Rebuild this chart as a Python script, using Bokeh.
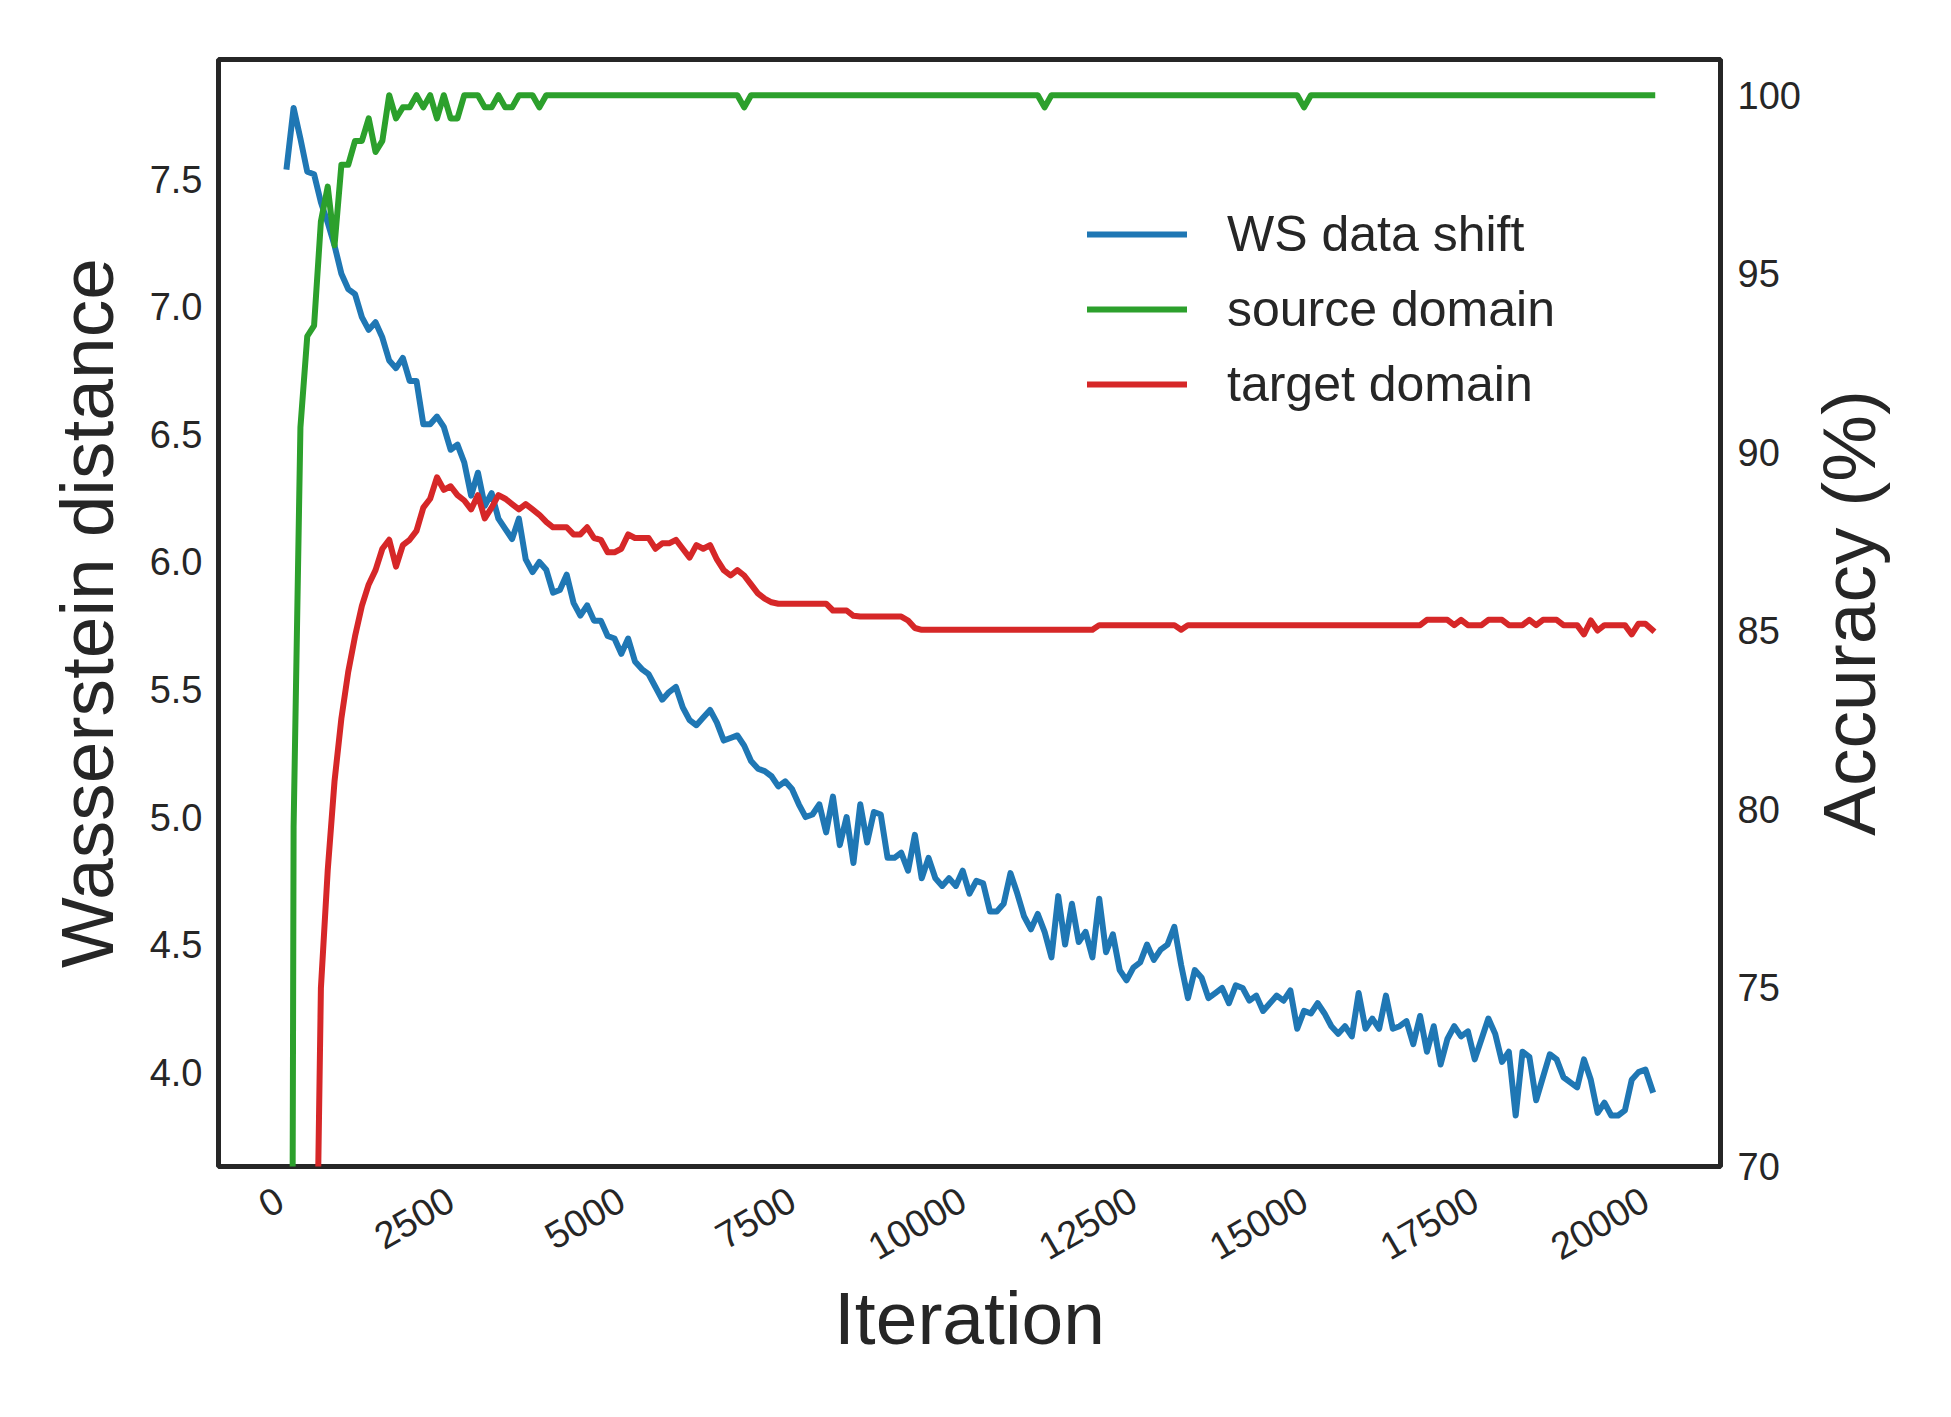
import math
from bokeh.plotting import figure
from bokeh.layouts import row
from bokeh.models import (Range1d, LinearAxis, FixedTicker, NumeralTickFormatter,
                          Legend, LegendItem)
from bokeh.embed import file_html
from bokeh.resources import INLINE

# ---------------- data ----------------
# evaluation every 100 iterations
iterations = list(range(100, 20101, 100))

ws_shift = [
    7.55, 7.78, 7.66, 7.53, 7.52, 7.41, 7.33, 7.24, 7.13, 7.07,
    7.05, 6.96, 6.91, 6.94, 6.88, 6.79, 6.76, 6.80, 6.71, 6.71,
    6.54, 6.54, 6.57, 6.53, 6.44, 6.46, 6.39, 6.26, 6.35, 6.22,
    6.27, 6.17, 6.13, 6.09, 6.17, 6.01, 5.96, 6.00, 5.97, 5.88,
    5.89, 5.95, 5.84, 5.79, 5.83, 5.77, 5.77, 5.71, 5.70, 5.64,
    5.70, 5.61, 5.58, 5.56, 5.51, 5.46, 5.49, 5.51, 5.43, 5.38,
    5.36, 5.39, 5.42, 5.37, 5.30, 5.31, 5.32, 5.28, 5.22, 5.19,
    5.18, 5.16, 5.12, 5.14, 5.11, 5.05, 5.00, 5.01, 5.05, 4.94,
    5.08, 4.89, 5.00, 4.82, 5.05, 4.90, 5.02, 5.01, 4.84, 4.84,
    4.86, 4.79, 4.93, 4.76, 4.84, 4.76, 4.73, 4.76, 4.73, 4.79,
    4.70, 4.75, 4.74, 4.63, 4.63, 4.66, 4.78, 4.70, 4.61, 4.56,
    4.62, 4.55, 4.45, 4.69, 4.50, 4.66, 4.51, 4.55, 4.45, 4.68,
    4.47, 4.54, 4.40, 4.36, 4.41, 4.43, 4.50, 4.44, 4.48, 4.50,
    4.57, 4.42, 4.29, 4.40, 4.37, 4.29, 4.31, 4.33, 4.27, 4.34,
    4.33, 4.28, 4.30, 4.24, 4.27, 4.30, 4.28, 4.32, 4.17, 4.24,
    4.23, 4.27, 4.23, 4.18, 4.15, 4.18, 4.14, 4.31, 4.17, 4.21,
    4.17, 4.30, 4.17, 4.18, 4.20, 4.11, 4.22, 4.08, 4.18, 4.03,
    4.13, 4.18, 4.14, 4.16, 4.05, 4.13, 4.21, 4.15, 4.04, 4.08,
    3.83, 4.08, 4.06, 3.89, 3.98, 4.07, 4.05, 3.98, 3.96, 3.94,
    4.05, 3.97, 3.84, 3.88, 3.83, 3.83, 3.85, 3.97, 4.00, 4.01,
    3.93,
]

source_acc = [
    10.0, 79.5, 90.7, 93.25, 93.55, 96.47, 97.44, 95.8, 98.05, 98.05,
    98.72, 98.72, 99.35, 98.41, 98.72, 100.0, 99.35, 99.66, 99.66, 100.0,
    99.66, 100.0, 99.35, 100.0, 99.35, 99.35, 100.0, 100.0, 100.0, 99.66,
    99.66, 100.0, 99.66, 99.66, 100.0, 100.0, 100.0, 99.66, 100.0, 100.0,
    100.0, 100.0, 100.0, 100.0, 100.0, 100.0, 100.0, 100.0, 100.0, 100.0,
    100.0, 100.0, 100.0, 100.0, 100.0, 100.0, 100.0, 100.0, 100.0, 100.0,
    100.0, 100.0, 100.0, 100.0, 100.0, 100.0, 100.0, 99.66, 100.0, 100.0,
    100.0, 100.0, 100.0, 100.0, 100.0, 100.0, 100.0, 100.0, 100.0, 100.0,
    100.0, 100.0, 100.0, 100.0, 100.0, 100.0, 100.0, 100.0, 100.0, 100.0,
    100.0, 100.0, 100.0, 100.0, 100.0, 100.0, 100.0, 100.0, 100.0, 100.0,
    100.0, 100.0, 100.0, 100.0, 100.0, 100.0, 100.0, 100.0, 100.0, 100.0,
    100.0, 99.66, 100.0, 100.0, 100.0, 100.0, 100.0, 100.0, 100.0, 100.0,
    100.0, 100.0, 100.0, 100.0, 100.0, 100.0, 100.0, 100.0, 100.0, 100.0,
    100.0, 100.0, 100.0, 100.0, 100.0, 100.0, 100.0, 100.0, 100.0, 100.0,
    100.0, 100.0, 100.0, 100.0, 100.0, 100.0, 100.0, 100.0, 100.0, 99.66,
    100.0, 100.0, 100.0, 100.0, 100.0, 100.0, 100.0, 100.0, 100.0, 100.0,
    100.0, 100.0, 100.0, 100.0, 100.0, 100.0, 100.0, 100.0, 100.0, 100.0,
    100.0, 100.0, 100.0, 100.0, 100.0, 100.0, 100.0, 100.0, 100.0, 100.0,
    100.0, 100.0, 100.0, 100.0, 100.0, 100.0, 100.0, 100.0, 100.0, 100.0,
    100.0, 100.0, 100.0, 100.0, 100.0, 100.0, 100.0, 100.0, 100.0, 100.0,
    100.0,
]

target_acc = [
    10.0, 22.0, 35.0, 48.0, 62.0, 75.0, 78.3, 80.8, 82.55, 83.85,
    84.85, 85.7, 86.3, 86.7, 87.3, 87.55, 86.8, 87.4, 87.55, 87.8,
    88.45, 88.7, 89.3, 88.95, 89.05, 88.8, 88.65, 88.4, 88.8, 88.15,
    88.45, 88.8, 88.7, 88.55, 88.4, 88.55, 88.4, 88.25, 88.05, 87.9,
    87.9, 87.9, 87.7, 87.7, 87.9, 87.6, 87.55, 87.2, 87.2, 87.3,
    87.7, 87.6, 87.6, 87.6, 87.3, 87.45, 87.45, 87.55, 87.3, 87.05,
    87.4, 87.3, 87.4, 87.0, 86.7, 86.55, 86.7, 86.55, 86.3, 86.05,
    85.9, 85.8, 85.76, 85.76, 85.76, 85.76, 85.76, 85.76, 85.76, 85.76,
    85.57, 85.57, 85.57, 85.42, 85.40, 85.40, 85.40, 85.40, 85.40, 85.40,
    85.40, 85.29, 85.08, 85.03, 85.03, 85.03, 85.03, 85.03, 85.03, 85.03,
    85.03, 85.03, 85.03, 85.03, 85.03, 85.03, 85.03, 85.03, 85.03, 85.03,
    85.03, 85.03, 85.03, 85.03, 85.03, 85.03, 85.03, 85.03, 85.03, 85.16,
    85.16, 85.16, 85.16, 85.16, 85.16, 85.16, 85.16, 85.16, 85.16, 85.16,
    85.16, 85.03, 85.16, 85.16, 85.16, 85.16, 85.16, 85.16, 85.16, 85.16,
    85.16, 85.16, 85.16, 85.16, 85.16, 85.16, 85.16, 85.16, 85.16, 85.16,
    85.16, 85.16, 85.16, 85.16, 85.16, 85.16, 85.16, 85.16, 85.16, 85.16,
    85.16, 85.16, 85.16, 85.16, 85.16, 85.16, 85.16, 85.31, 85.31, 85.31,
    85.31, 85.16, 85.31, 85.16, 85.16, 85.16, 85.31, 85.31, 85.31, 85.16,
    85.16, 85.16, 85.31, 85.16, 85.31, 85.31, 85.31, 85.16, 85.16, 85.16,
    84.90, 85.29, 85.01, 85.16, 85.16, 85.16, 85.16, 84.90, 85.20, 85.20,
    85.03,
]

x_ticks = [0, 2500, 5000, 7500, 10000, 12500, 15000, 17500, 20000]
ws_ticks = [4.0, 4.5, 5.0, 5.5, 6.0, 6.5, 7.0, 7.5]
acc_ticks = [70, 75, 80, 85, 90, 95, 100]

series_labels = ["WS data shift", "source domain", "target domain"]
series_colors = ["#1f77b4", "#2ca02c", "#d62728"]
acc_axis_title = "Accuracy (%)"

# ---------------- main figure ----------------
FONT = "Liberation Sans"
TXT = "#262626"

p = figure(frame_width=1502, frame_height=1107, output_backend="svg", toolbar_location=None,
           x_range=Range1d(-900, 21100), y_range=Range1d(3.63, 7.97),
           min_border_left=218, min_border_right=0,
           min_border_top=59, min_border_bottom=234,
           x_axis_label="Iteration", y_axis_label="Wasserstein distance")
p.extra_y_ranges = {"acc": Range1d(70, 101.0)}
p.background_fill_color = "white"
p.border_fill_color = "white"
p.grid.visible = False
p.outline_line_color = TXT
p.outline_line_width = 5

right = LinearAxis(y_range_name="acc")
p.add_layout(right, "right")

xax = p.xaxis[0]
lax = p.yaxis[0]


def style_axis(ax):
    ax.axis_line_color = None
    ax.major_tick_line_color = None
    ax.minor_tick_line_color = None
    ax.major_tick_out = 0
    ax.major_tick_in = 0
    ax.minor_tick_out = 0
    ax.minor_tick_in = 0
    ax.major_label_text_font = FONT
    ax.major_label_text_font_size = "38px"
    ax.major_label_text_color = TXT
    ax.axis_label_text_font = FONT
    ax.axis_label_text_font_size = "75px"
    ax.axis_label_text_font_style = "normal"
    ax.axis_label_text_color = TXT


for ax in (xax, lax, right):
    style_axis(ax)

xax.ticker = FixedTicker(ticks=x_ticks, minor_ticks=[])
xax.formatter = NumeralTickFormatter(format="0")
xax.major_label_orientation = math.pi / 6
xax.major_label_standoff = 30
xax.axis_label_standoff = 0

lax.ticker = FixedTicker(ticks=ws_ticks, minor_ticks=[])
lax.formatter = NumeralTickFormatter(format="0.0")
lax.major_label_standoff = 16
lax.axis_label_standoff = 18

right.ticker = FixedTicker(ticks=acc_ticks, minor_ticks=[])
right.formatter = NumeralTickFormatter(format="0")
right.major_label_standoff = 17

r_ws = p.line(iterations, ws_shift, line_color=series_colors[0], line_width=6,
              line_cap="square", line_join="round")
r_src = p.line(iterations, source_acc, line_color=series_colors[1], line_width=6,
               line_cap="square", line_join="round", y_range_name="acc")
r_tgt = p.line(iterations, target_acc, line_color=series_colors[2], line_width=6,
               line_cap="square", line_join="round", y_range_name="acc")

legend = Legend(
    items=[LegendItem(label=series_labels[0], renderers=[r_ws]),
           LegendItem(label=series_labels[1], renderers=[r_src]),
           LegendItem(label=series_labels[2], renderers=[r_tgt])],
    location=(869, 752), orientation="vertical",
    glyph_width=100, glyph_height=60, label_height=60, label_standoff=40,
    spacing=15, padding=0, margin=0,
    border_line_alpha=0, background_fill_alpha=0,
    label_text_font=FONT, label_text_font_size="50px", label_text_color=TXT,
)
p.add_layout(legend)

# ---------------- strip carrying the right-hand axis title ----------------
# A narrow companion figure whose (label-only) left axis spans the same
# accuracy range, so its title reads bottom-to-top and is centred on the frame.
q = figure(width=124, height=1400, output_backend="svg", toolbar_location=None,
           x_range=Range1d(0, 1), y_range=Range1d(70, 101.0),
           x_axis_type=None, y_axis_label=acc_axis_title,
           min_border_left=86, min_border_right=0,
           min_border_top=59, min_border_bottom=234)
q.outline_line_color = None
q.background_fill_color = "white"
q.border_fill_color = "white"
q.grid.visible = False
qax = q.yaxis[0]
style_axis(qax)
qax.ticker = FixedTicker(ticks=[], minor_ticks=[])
qax.major_label_standoff = 0
qax.axis_label_standoff = 0

layout = row(p, q, spacing=0)
open("out.html", "w").write(file_html(layout, INLINE))
